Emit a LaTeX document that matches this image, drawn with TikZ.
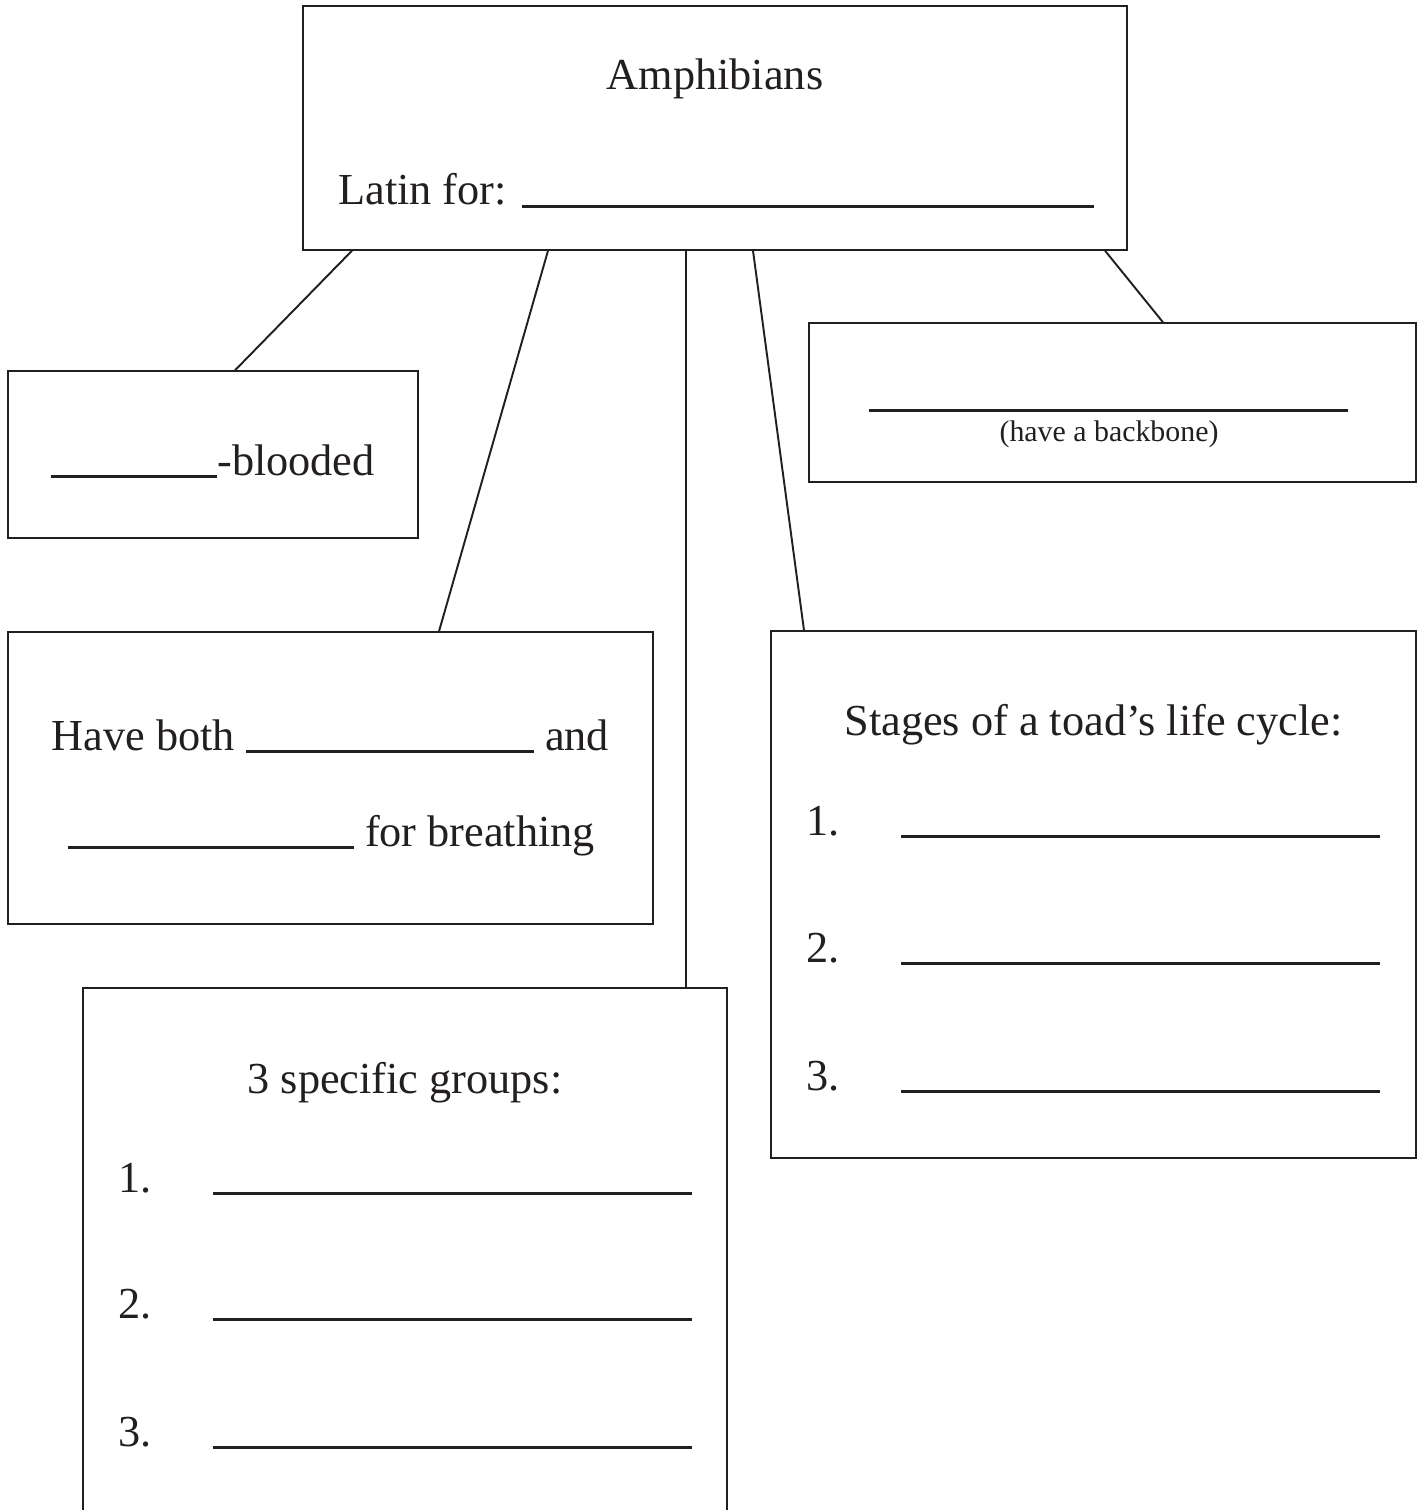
\documentclass[tikz,border=0pt]{standalone}
\usepackage{fontspec}
\setmainfont{Liberation Serif}
\usepackage{tikz}
\usetikzlibrary{calc}
\definecolor{ink}{HTML}{231F20}
\newcommand{\blankline}[1]{\rule[-1.6pt]{#1}{1.7pt}}
\tikzset{
  box/.style={draw=ink, line width=0.8pt, inner sep=0pt, fill=white},
  txt/.style={inner sep=0pt, text=ink, font=\fontsize{25.2}{30}\selectfont},
  note/.style={inner sep=0pt, text=ink, font=\fontsize{17}{20}\selectfont},
  link/.style={draw=ink, line width=1.1pt},
}
\begin{document}
\begin{tikzpicture}[x=0.02cm, y=-0.02cm]
  \useasboundingbox (0,0) rectangle (1425,1510);
  \clip (0,0) rectangle (1425,1510);
  \node[box, minimum width=16.48cm, minimum height=4.88cm] (amph) at (715,128) {};
  \node[box, minimum width=8.2cm, minimum height=3.34cm] (blood) at (213,454.5) {};
  \node[box, minimum width=12.14cm, minimum height=3.18cm] (spine) at (1112.5,402.5) {};
  \node[box, minimum width=12.9cm, minimum height=5.84cm] (lungs) at (330.5,778) {};
  \node[box, minimum width=12.9cm, minimum height=10.54cm] (stages) at (1093.5,894.5) {};
  \node[box, minimum width=12.88cm, minimum height=11.04cm] (groups) at (405,1264) {};
  \node[txt, anchor=base] (amphtitle) at (715,90) {Amphibians};
  \node[txt, anchor=base west] (latin) at (338,205) {Latin for: \blankline{11.46cm}};
  \node[txt, anchor=base] (bloodtext) at (213,475) {\blankline{3.32cm}-blooded};
  \node[txt, anchor=base] (spineblank) at (1108.5,409) {\blankline{9.58cm}};
  \node[note, anchor=base] (spinetext) at (1109,441) {(have a backbone)};
  \node[txt, anchor=base] (lungsone) at (330.5,750) {Have both \blankline{5.76cm} and};
  \node[txt, anchor=base] (lungstwo) at (331.5,846) {\blankline{5.72cm} for breathing};
  \node[txt, anchor=base] (stagestitle) at (1093.5,735) {Stages of a toad's life cycle:};
  \foreach \n/\y in {1/835,2/962,3/1090} {
    \node[txt, anchor=base west] (stage\n) at (806,\y) {\n.};
    \node[txt, anchor=base west] (stageblank\n) at (901,\y) {\blankline{9.58cm}};
  }
  \node[txt, anchor=base] (groupstitle) at (405,1093) {3 specific groups:};
  \foreach \n/\y in {1/1192,2/1318,3/1446} {
    \node[txt, anchor=base west] (group\n) at (118,\y) {\n.};
    \node[txt, anchor=base west] (groupblank\n) at (213,\y) {\blankline{9.58cm}};
  }
  \draw[link] ($(amph.south)+(-363,0)$) -- ($(blood.north)+(22,0)$);
  \draw[link] ($(amph.south)+(-167,0)$) -- ($(lungs.north)+(108.5,0)$);
  \draw[link] ($(amph.south)+(-29,0)$) -- ($(groups.north)+(281,0)$);
  \draw[link] ($(amph.south)+(38,0)$) -- ($(stages.north)+(-289.5,0)$);
  \draw[link] ($(amph.south)+(390,0)$) -- ($(spine.north)+(50.5,0)$);
\end{tikzpicture}
\end{document}
